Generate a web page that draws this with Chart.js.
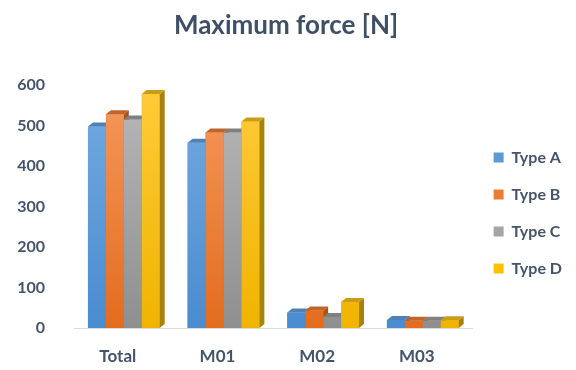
<!DOCTYPE html>
<html>
<head>
<meta charset="utf-8">
<script src="https://cdn.jsdelivr.net/npm/chart.js@4.4.1/dist/chart.umd.min.js"></script>
<style>
  html, body { margin: 0; padding: 0; background: #ffffff; }
  #wrap { width: 576px; height: 370px; position: relative; }
</style>
</head>
<body>
<div id="wrap"><canvas id="chart" width="576" height="370"></canvas></div>
<script>
// Categories and series
const categories = ['Total', 'M01', 'M02', 'M03'];
const seriesNames = ['Type A', 'Type B', 'Type C', 'Type D'];
const typeA = [498, 458, 38, 20];
const typeB = [528, 483, 43, 18];
const typeC = [515, 483, 27, 18];
const typeD = [578, 510, 64, 19];
const yTicks = [0, 100, 200, 300, 400, 500, 600];

// Face colours: front gradient (light -> dark), top face, side face
const palette = [
  { light: '#74abe0', dark: '#4a8cd0', top: '#4f80b6', side: '#3b6ea6', solid: '#5b9bd5' },
  { light: '#f5995f', dark: '#e46c1c', top: '#c0642c', side: '#a9541c', solid: '#ed7d31' },
  { light: '#b9b9b9', dark: '#8f8f8f', top: '#808080', side: '#6f6f6f', solid: '#a5a5a5' },
  { light: '#ffcb3a', dark: '#f0b400', top: '#c99c18', side: '#a8820c', solid: '#ffc000' }
];
const depth = { dx: 5, dy: 4 };
const textColor = '#44546a';

function frontFill(i) {
  return (c) => {
    const a = c.chart.chartArea;
    if (!a) return palette[i].solid;
    const g = c.chart.ctx.createLinearGradient(0, a.top, 0, a.bottom);
    g.addColorStop(0, palette[i].light);
    g.addColorStop(1, palette[i].dark);
    return g;
  };
}

// Redraw the bars series by series, each front followed by its right and top
// faces, so a neighbour's front hides the part of a side face behind it.
const bar3d = {
  id: 'bar3d',
  afterDatasetsDraw(chart) {
    const ctx = chart.ctx;
    const area = chart.chartArea;
    ctx.save();
    for (let i = 0; i < chart.data.datasets.length; i++) {
      const meta = chart.getDatasetMeta(i);
      if (!meta.visible) continue;
      const p = palette[i];
      meta.data.forEach((bar) => {
        bar.draw(ctx, area);
        const { x, y, base, width } = bar.getProps(['x', 'y', 'base', 'width'], true);
        const l = x - width / 2, r = x + width / 2;
        ctx.fillStyle = p.side;
        ctx.beginPath();
        ctx.moveTo(r, y);
        ctx.lineTo(r + depth.dx, y - depth.dy);
        ctx.lineTo(r + depth.dx, base - depth.dy);
        ctx.lineTo(r, base);
        ctx.closePath();
        ctx.fill();
        ctx.fillStyle = p.top;
        ctx.beginPath();
        ctx.moveTo(l, y);
        ctx.lineTo(l + depth.dx, y - depth.dy);
        ctx.lineTo(r + depth.dx, y - depth.dy);
        ctx.lineTo(r, y);
        ctx.closePath();
        ctx.fill();
      });
    }
    ctx.restore();
  }
};

const seriesValues = [typeA, typeB, typeC, typeD];
const datasets = seriesNames.map((name, i) => ({
  label: name,
  data: seriesValues[i],
  backgroundColor: frontFill(i),
  borderWidth: 0,
  categoryPercentage: 0.72,
  barPercentage: 1.0
}));

new Chart(document.getElementById('chart'), {
  type: 'bar',
  data: { labels: categories, datasets },
  options: {
    responsive: false,
    animation: false,
    layout: { padding: { left: 0, right: 4, top: 0, bottom: 4 } },
    plugins: {
      title: {
        display: true,
        text: 'Maximum force [N]',
        color: '#3f4f66',
        font: { family: 'Lato', size: 26, weight: 'bold' },
        padding: { top: 10, bottom: 44 }
      },
      legend: {
        position: 'right',
        title: {
          display: true,
          text: ' ',
          font: { family: 'Lato', size: 10 },
          padding: { top: 24, bottom: 24 }
        },
        labels: {
          boxWidth: 10,
          boxHeight: 10,
          padding: 21,
          color: textColor,
          font: { family: 'Lato', size: 16, weight: 'bold' },
          generateLabels: (chart) =>
            Chart.defaults.plugins.legend.labels.generateLabels(chart).map((item) => {
              item.fillStyle = palette[item.datasetIndex].solid;
              item.strokeStyle = palette[item.datasetIndex].solid;
              item.lineWidth = 0;
              return item;
            })
        }
      },
      tooltip: { enabled: false }
    },
    scales: {
      x: {
        afterFit: (scale) => { scale.height = 38; },
        grid: { display: false, drawTicks: false },
        border: { display: true, color: '#d9d9d9', width: 1 },
        ticks: {
          color: textColor,
          padding: 18,
          labelOffset: -6,
          font: { family: 'Lato', size: 17, weight: 'bold' }
        }
      },
      y: {
        min: 0,
        max: 600,
        afterBuildTicks: (scale) => { scale.ticks = yTicks.map((v) => ({ value: v })); },
        afterFit: (scale) => { scale.width = 74; },
        grid: { display: false, drawTicks: false },
        border: { display: false },
        ticks: {
          color: textColor,
          padding: 29,
          font: { family: 'Lato', size: 16, weight: 'bold' }
        }
      }
    }
  },
  plugins: [bar3d]
});
</script>
</body>
</html>
